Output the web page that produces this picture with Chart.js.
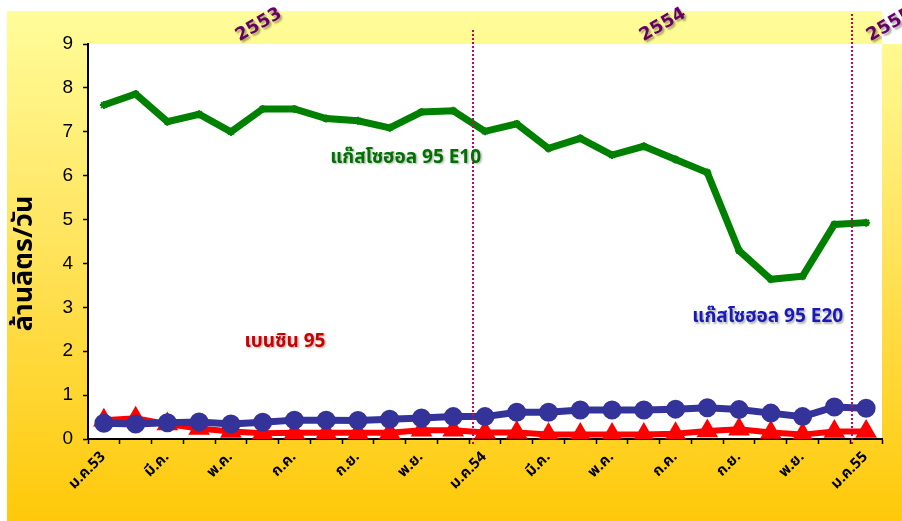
<!DOCTYPE html>
<html>
<head>
<meta charset="utf-8">
<script src="https://cdn.jsdelivr.net/npm/chart.js@4.4.1/dist/chart.umd.min.js"></script>
<style>
  html, body { margin: 0; padding: 0; background: #ffffff; }
  #wrap { width: 902px; height: 521px; }
</style>
</head>
<body>
<div id="wrap"><canvas id="fuelChart" width="902" height="521"></canvas></div>
<script>
// Months Jan 2553 .. Jan 2555 (only every other one is shown on the axis)
const months = ['ม.ค.53', 'ก.พ.', 'มี.ค.', 'เม.ย.', 'พ.ค.', 'มิ.ย.', 'ก.ค.', 'ส.ค.', 'ก.ย.', 'ต.ค.', 'พ.ย.', 'ธ.ค.',
                'ม.ค.54', 'ก.พ.', 'มี.ค.', 'เม.ย.', 'พ.ค.', 'มิ.ย.', 'ก.ค.', 'ส.ค.', 'ก.ย.', 'ต.ค.', 'พ.ย.', 'ธ.ค.',
                'ม.ค.55'];

// Million litres per day
const gasoholE10 = [7.61, 7.86, 7.23, 7.40, 7.00, 7.52, 7.52, 7.30, 7.25, 7.09, 7.45, 7.48,
                    7.01, 7.18, 6.62, 6.85, 6.47, 6.67, 6.37, 6.07, 4.29, 3.64, 3.71, 4.89, 4.93];
const gasoholE20 = [0.36, 0.34, 0.37, 0.39, 0.34, 0.38, 0.43, 0.43, 0.42, 0.45, 0.48, 0.51,
                    0.51, 0.61, 0.61, 0.66, 0.66, 0.66, 0.68, 0.71, 0.67, 0.59, 0.51, 0.73, 0.70];
const benzin95   = [0.43, 0.47, 0.34, 0.24, 0.17, 0.13, 0.14, 0.14, 0.14, 0.14, 0.20, 0.20,
                    0.15, 0.15, 0.10, 0.10, 0.10, 0.10, 0.12, 0.18, 0.22, 0.15, 0.10, 0.17, 0.17];

const seriesNames = ['แก๊สโซฮอล 95 E10', 'แก๊สโซฮอล 95 E20', 'เบนซิน 95'];
const yearLabels = ['2553', '2554', '2555'];
const yTitle = 'ล้านลิตร/วัน';
const yMin = 0;
const yMax = 9;

const thaiFont = "Tahoma, 'Noto Sans Thai', 'Noto Sans', 'DejaVu Sans', sans-serif";

// Yellow gradient backdrop, white plot area
const backdropPlugin = {
    id: 'backdrop',
    beforeDraw(chart) {
        const ctx = chart.ctx;
        const area = chart.chartArea;
        ctx.save();
        const grad = ctx.createLinearGradient(0, 11, 0, chart.height);
        grad.addColorStop(0, '#FFFD9A');
        grad.addColorStop(0.45, '#FFE45E');
        grad.addColorStop(1, '#FFC90A');
        ctx.fillStyle = grad;
        ctx.fillRect(7, 11, chart.width - 7, chart.height - 11);
        // top-right corner stays white
        ctx.fillStyle = '#ffffff';
        ctx.fillRect(area.right, 0, chart.width - area.right, area.top);
        ctx.fillRect(area.left, area.top, area.right - area.left, area.bottom - area.top);
        ctx.restore();
    }
};

// Year separators, year labels, axis title and series names
const annotatePlugin = {
    id: 'annotate',
    afterDraw(chart) {
        const ctx = chart.ctx;
        const xs = chart.scales.x;
        const ys = chart.scales.y;
        ctx.save();

        // dotted lines at the year change
        ctx.strokeStyle = '#CC0066';
        ctx.lineWidth = 2;
        ctx.setLineDash([2, 2]);
        [[11.62, 30], [23.54, 14]].forEach(([v, top]) => {
            const x = Math.round(xs.getPixelForValue(v));
            ctx.beginPath();
            ctx.moveTo(x, top);
            ctx.lineTo(x, ys.bottom + 6);
            ctx.stroke();
        });
        ctx.setLineDash([]);

        // y axis title (sits a bit below the axis middle)
        ctx.save();
        ctx.font = 'bold 27px ' + thaiFont;
        ctx.fillStyle = '#000000';
        ctx.textAlign = 'center';
        ctx.textBaseline = 'middle';
        ctx.translate(27, ys.getPixelForValue(4));
        ctx.rotate(-Math.PI / 2);
        ctx.fillText(yTitle, 0, 0);
        ctx.restore();

        // rotated year labels
        ctx.font = "bold 18px 'DejaVu Sans', Verdana, sans-serif";
        ctx.textAlign = 'center';
        ctx.textBaseline = 'middle';
        ctx.fillStyle = '#660066';
        ctx.shadowColor = 'rgba(0,0,0,0.35)';
        ctx.shadowOffsetX = 2;
        ctx.shadowOffsetY = 2;
        ctx.shadowBlur = 2;
        [4.88, 17.6, 24.75].forEach((v, i) => {
            ctx.save();
            ctx.translate(xs.getPixelForValue(v), 25);
            ctx.rotate(-Math.PI / 6);
            ctx.fillText(yearLabels[i], 0, 0);
            ctx.restore();
        });

        // series name labels
        ctx.font = 'bold 19px ' + thaiFont;
        ctx.shadowOffsetX = 1.5;
        ctx.shadowOffsetY = 1.5;
        ctx.shadowBlur = 2;
        ctx.shadowColor = 'rgba(0,0,0,0.3)';
        ctx.fillStyle = '#007000';
        ctx.fillText(seriesNames[0], xs.getPixelForValue(9.5), ys.getPixelForValue(6.38));
        ctx.fillStyle = '#1A1AB8';
        ctx.fillText(seriesNames[1], xs.getPixelForValue(20.9), ys.getPixelForValue(2.75));
        ctx.fillStyle = '#CC0000';
        ctx.fillText(seriesNames[2], xs.getPixelForValue(5.7), ys.getPixelForValue(2.19));
        ctx.restore();
    }
};

const ctx = document.getElementById('fuelChart').getContext('2d');
const fuelChart = new Chart(ctx, {
    type: 'line',
    data: {
        labels: months,
        datasets: [
            {
                label: seriesNames[0],
                data: gasoholE10,
                borderColor: '#008000',
                backgroundColor: '#008000',
                borderWidth: 7,
                pointStyle: 'star',
                pointRadius: 4,
                pointBorderWidth: 2,
                tension: 0
            },
            {
                label: seriesNames[1],
                data: gasoholE20,
                borderColor: '#333399',
                backgroundColor: '#333399',
                borderWidth: 7,
                pointStyle: 'circle',
                pointRadius: 6,
                tension: 0
            },
            {
                label: seriesNames[2],
                data: benzin95,
                borderColor: '#FF0000',
                backgroundColor: '#FF0000',
                borderWidth: 6,
                pointStyle: 'triangle',
                pointRadius: 6.5,
                tension: 0
            }
        ]
    },
    options: {
        responsive: false,
        devicePixelRatio: 1,
        animation: false,
        layout: { padding: { left: 0, top: 44, right: 20, bottom: 0 } },
        plugins: {
            legend: { display: false },
            tooltip: { enabled: false }
        },
        scales: {
            x: {
                offset: true,
                grid: {
                    offset: true,
                    drawOnChartArea: false,
                    drawTicks: true,
                    tickLength: 5,
                    tickWidth: 1.5,
                    tickColor: '#000000'
                },
                border: { color: '#000000', width: 2 },
                ticks: {
                    autoSkip: false,
                    maxRotation: 45,
                    minRotation: 45,
                    padding: 5,
                    color: '#000000',
                    font: { family: thaiFont, size: 15, weight: 'bold' },
                    callback: function (value, index) {
                        return index % 2 === 0 ? this.getLabelForValue(value) : '';
                    }
                },
                afterFit: function (scale) { scale.height = 82; }
            },
            y: {
                min: yMin,
                max: yMax,
                grid: {
                    drawOnChartArea: false,
                    drawTicks: true,
                    tickLength: 5,
                    tickWidth: 1.5,
                    tickColor: '#000000'
                },
                border: { color: '#000000', width: 2 },
                ticks: {
                    stepSize: 1,
                    padding: 10,
                    color: '#000000',
                    font: { family: "'Liberation Sans', Arial, sans-serif", size: 19 }
                },
                afterFit: function (scale) { scale.width = 88; }
            }
        }
    },
    plugins: [backdropPlugin, annotatePlugin]
});
</script>
</body>
</html>
